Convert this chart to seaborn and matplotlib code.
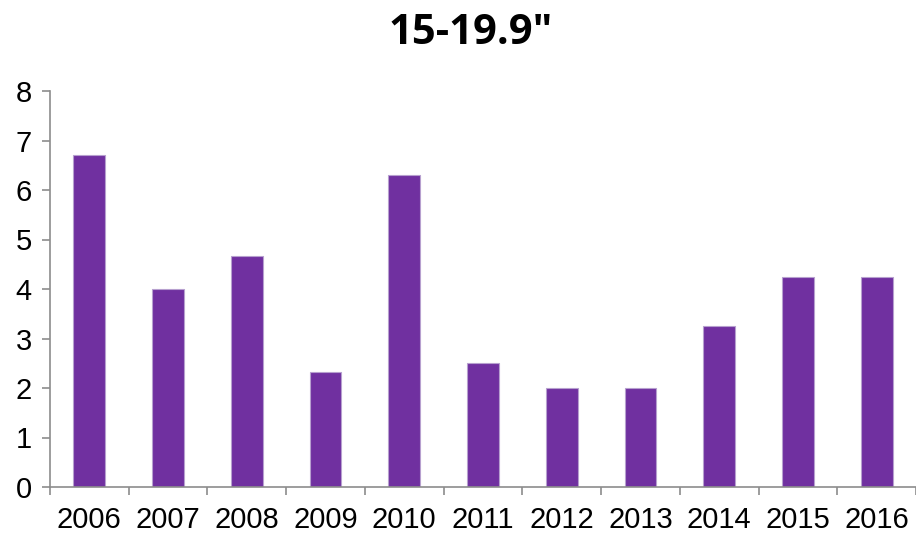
import matplotlib
matplotlib.use('Agg')
import matplotlib.pyplot as plt
import seaborn as sns
import pandas as pd

# ── DATA ─────────────────────────────────────────────────────────────────────
YEARS  = ["2006", "2007", "2008", "2009", "2010", "2011",
          "2012", "2013", "2014", "2015", "2016"]
VALUES = [6.7, 4.0, 4.67, 2.33, 6.3, 2.5, 2.0, 2.0, 3.25, 4.25, 4.25]
TITLE  = '15-19.9"'
Y_TICKS = list(range(0, 9))

BAR_COLOR  = "#7030A0"
AXIS_COLOR = "#8c8c8c"

df = pd.DataFrame({"year": YEARS, "value": VALUES})

sns.set_style("white")
plt.rcParams['font.family'] = ['Liberation Sans', 'DejaVu Sans']

fig = plt.figure(figsize=(9.16, 5.35), dpi=100)
ax = fig.add_axes([50 / 916, 1 - 487 / 535, 1 - 50 / 916, (487 - 91) / 535])

sns.barplot(data=df, x="year", y="value", color=BAR_COLOR, saturation=1,
            width=0.405, edgecolor="#b7a0cf", linewidth=0.8, ax=ax)

ax.set_ylim(0, 8)
ax.set_xlim(-0.5, len(YEARS) - 0.5)
ax.set_yticks(Y_TICKS)
ax.set_xlabel("")
ax.set_ylabel("")

# category-boundary ticks on the x axis
ax.set_xticks([i - 0.5 for i in range(len(YEARS) + 1)], minor=True)
ax.tick_params(axis='x', which='major', bottom=True, length=0, pad=14,
               labelsize=21, labelcolor='black')
ax.tick_params(axis='x', which='minor', bottom=True, length=6, width=1.2,
               color=AXIS_COLOR, direction='out')
ax.tick_params(axis='y', left=True, length=6, width=1.2, color=AXIS_COLOR,
               direction='out', labelsize=21, labelcolor='black', pad=7)

for side in ['top', 'right']:
    ax.spines[side].set_visible(False)
for side in ['left', 'bottom']:
    ax.spines[side].set_color(AXIS_COLOR)
    ax.spines[side].set_linewidth(1.2)

fig.text(471 / 916, 1 - 44 / 535, TITLE, ha='center', va='baseline',
         fontsize=30, fontweight='bold', color='black',
         family=['Open Sans', 'DejaVu Sans'])

fig.savefig("out.png", dpi=100)
